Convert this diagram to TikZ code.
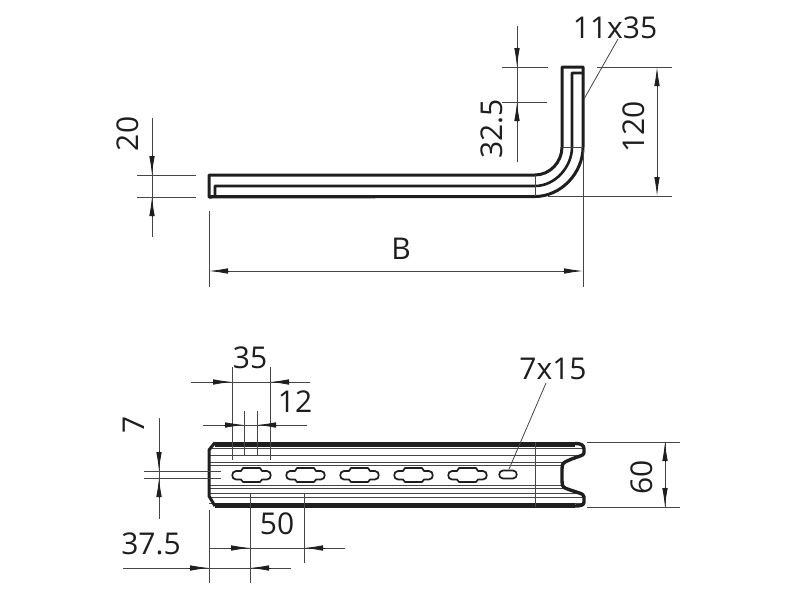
\documentclass[tikz,border=0pt]{standalone}
\usepackage{fontspec}
\setmainfont{Open Sans}
\usetikzlibrary{arrows.meta}
\definecolor{mydark}{RGB}{30,30,30}
\definecolor{mygray}{RGB}{70,70,70}

\begin{document}
\begin{tikzpicture}[x=1pt,y=-1pt,inner sep=0pt]
\tikzstyle{thin line}=[draw=mygray, line width=0.8pt]
\tikzstyle{part}=[draw=mydark, line width=3pt, line join=round]
\tikzstyle{heavy}=[draw=mydark, line width=4.4pt]
\tikzstyle{rib}=[draw=mygray, line width=1pt]
\tikzstyle{connect}=[draw=mydark, line width=0.8pt, -{Latex[length=19pt,width=5.5pt]}]
\tikzstyle{size}=[font=\fontsize{30}{32}\selectfont, text=mydark]
\useasboundingbox (0,0) rectangle (800,600);
\fill[white] (0,0) rectangle (800,600);
% side view
\draw[part] (209,197) -- (209,175) -- (535,175) .. controls (550,175) and (562,162) .. (562,147) -- (562,67) -- (583,67) -- (583,147) .. controls (583,173) and (561,196.5) .. (535,196.5) -- cycle;
\draw[part, line width=2.6pt] (215,196) -- (215,186) -- (535,186) .. controls (555,186) and (572,167) .. (572,147) -- (572,73) -- (582,73);
\draw[heavy, line width=3.6pt] (209,196.5) -- (535,196.5);
\path (535,175) edge[thin line] (535,196);
\path (562,147) edge[thin line] (583,147);
% dimension 20
\path (152,118) edge[thin line] (152,237);
\path (137,175) edge[thin line] (196,175);
\path (137,197) edge[thin line] (196,197);
\path (152,155) edge[connect] (152,175);
\path (152,217) edge[connect] (152,197);
\node[size, rotate=90] (dimtw) at (128,134) {20};
% dimension B
\path (209,211) edge[thin line] (209,287);
\path (583,150) edge[thin line] (583,287);
\path (229,271) edge[thin line] (563,271);
\path (229,271) edge[connect] (209,271);
\path (563,271) edge[connect] (583,271);
\node[size] (dimb) at (401,249) {B};
% dimension 32.5
\path (517,26) edge[thin line] (517,162);
\path (502,67) edge[thin line] (548,67);
\path (502,102) edge[thin line] (547,102);
\path (517,47) edge[connect] (517,67);
\path (517,122) edge[connect] (517,102);
\node[size, rotate=90] (dimtt) at (492,129) {32.5};
% dimension 120
\path (657,87) edge[thin line] (657,176);
\path (597,67) edge[thin line] (672,67);
\path (548,196) edge[thin line] (672,196);
\path (657,87) edge[connect] (657,67);
\path (657,176) edge[connect] (657,196);
\node[size, rotate=90] (dimot) at (634,127) {120};
% slot label 11x35
\node[size] (slottop) at (615,28) {11x35};
\path (618,39) edge[thin line] (584,99);
% front view
\foreach \yy/\xe in {448/584,455/578,462/566,465/563,485/563,488/566,493/578,497/584,503/584}
  \draw[rib] (209,\yy) -- (\xe,\yy);
\draw[part] (215,442.5) -- (209,450) -- (209,496) -- (215,506);
\draw[heavy, line width=5pt] (215,444) -- (575,444);
\draw[heavy, line width=5pt] (215,505.5) -- (575,505.5);
\draw[part, line width=3.4pt] (575,443.5) .. controls (581,443.5) and (584,445) .. (584,449) -- (584,453) .. controls (584,456) and (577,456) .. (565,462) .. controls (562,464) and (562,466) .. (562,469) -- (562,481) .. controls (562,484) and (562,486) .. (565,488) .. controls (577,493) and (584,493) .. (584,497) -- (584,502) .. controls (584,505) and (581,506) .. (575,506);
\path (535,442) edge[thin line] (535,507);
% slots
\foreach \sx in {0,54,108,162,216}
  \draw[part, line width=1.7pt, xshift=\sx pt] (236,471) -- (241,471) -- (243,468) -- (260,468) -- (262,471) -- (267,471) .. controls (272,471) and (272,479.5) .. (267,479.5) -- (262,479.5) -- (260,482) -- (243,482) -- (241,479.5) -- (236,479.5) .. controls (231,479.5) and (231,471) .. (236,471) -- cycle;
\draw[part, line width=1.7pt] (503,470.5) -- (513,470.5) .. controls (518,470.5) and (518,478.5) .. (513,478.5) -- (503,478.5) .. controls (498,478.5) and (498,470.5) .. (503,470.5) -- cycle;
% dimension 35
\path (191,382) edge[thin line] (310,382);
\path (232,367) edge[thin line] (232,460);
\path (270,367) edge[thin line] (270,460);
\path (212,382) edge[connect] (232,382);
\path (290,382) edge[connect] (270,382);
\node[size] (dimtf) at (250,358) {35};
% dimension 12
\path (203,425) edge[thin line] (307,425);
\path (244,411) edge[thin line] (244,455);
\path (257,411) edge[thin line] (257,455);
\path (224,425) edge[connect] (244,425);
\path (277,425) edge[connect] (257,425);
\node[size] (dimtl) at (295,402) {12};
% dimension 7
\path (159,418) edge[thin line] (159,519);
\path (144,471) edge[thin line] (221,471);
\path (144,478) edge[thin line] (221,478);
\path (159,451) edge[connect] (159,471);
\path (159,498) edge[connect] (159,478);
\node[size, rotate=90] (dimse) at (134,425) {7};
% dimension 50
\path (209,548) edge[thin line] (345,548);
\path (250,494) edge[thin line] (250,583);
\path (304,494) edge[thin line] (304,563);
\path (209,510) edge[thin line] (209,583);
\path (230,548) edge[connect] (250,548);
\path (325,548) edge[connect] (304,548);
\node[size] (dimfi) at (277,524) {50};
% dimension 37.5
\path (123,568) edge[thin line] (291,568);
\path (189,568) edge[connect] (209,568);
\path (271,568) edge[connect] (250,568);
\node[size] (dimts) at (151,544) {37.5};
% dimension 60
\path (665,442) edge[thin line] (665,507);
\path (587,442) edge[thin line] (680,442);
\path (587,507) edge[thin line] (680,507);
\path (665,462) edge[connect] (665,442);
\path (665,487) edge[connect] (665,507);
\node[size, rotate=90] (dimsi) at (642,477) {60};
% slot label 7x15
\node[size] (slotfront) at (553,369) {7x15};
\path (546,383) edge[thin line] (509,469);
\end{tikzpicture}
\end{document}
